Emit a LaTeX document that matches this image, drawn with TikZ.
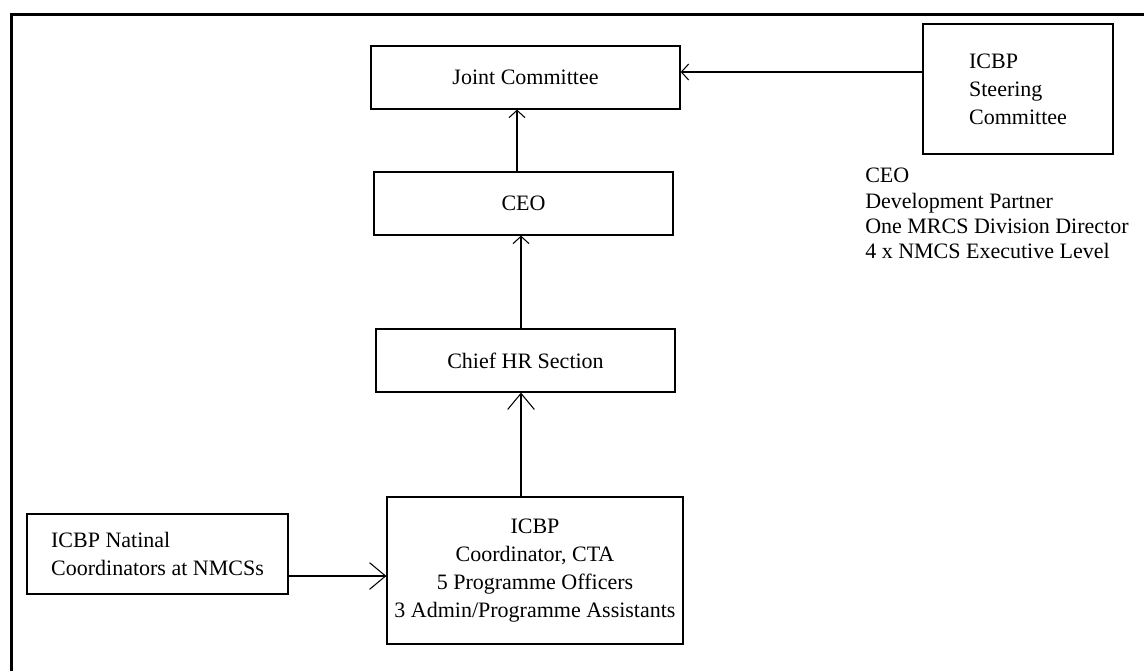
\documentclass[tikz,border=0pt]{standalone}
\usepackage{fontspec}
\setmainfont{Liberation Serif}
\usepackage{tikz}
\usetikzlibrary{arrows.meta,positioning,calc}

\begin{document}
\begin{tikzpicture}[x=0.75pt, y=-0.75pt,
  orgbox/.style={draw, line width=0.9pt, inner sep=0pt, align=center,
    font=\fontsize{16.5}{21}\selectfont},
  smalltip/.style={-{Straight Barb[length=5.5pt, width=12pt, line width=0.8pt]}},
  bigtip/.style={-{Straight Barb[length=12pt, width=20pt, line width=0.8pt]}}]
\useasboundingbox (0,0) rectangle (1144,671);

% Frame
\draw[line width=2.25pt] (11,671) -- (11,14) -- (1144,14);

% Boxes
\node[orgbox, minimum width=309*0.75pt, minimum height=63*0.75pt] (joint) at (525.5,77.5) {Joint Committee};
\node[orgbox, minimum width=299*0.75pt, minimum height=63*0.75pt] (ceo) at (523.5,203.5) {CEO};
\node[orgbox, minimum width=299*0.75pt, minimum height=63*0.75pt] (chiefhr) at (525.5,360.5) {Chief HR Section};
\node[orgbox, minimum width=296*0.75pt, minimum height=147*0.75pt, font=\fontsize{16.5}{21}\selectfont] (icbp) at (535,570.5)
  {ICBP\\Coordinator, CTA\\5 Programme Officers\\3 Admin/Programme Assistants};
\node[orgbox, align=left, minimum width=261*0.75pt, minimum height=80*0.75pt] (natcoord) at (157.5,554)
  {ICBP Natinal\\Coordinators at NMCSs};
\node[orgbox, align=left, minimum width=190*0.75pt, minimum height=130*0.75pt] (steering) at (1018,89)
  {ICBP\\Steering\\Committee};

% Members of the steering committee
\node[anchor=north west, inner sep=0pt, align=left, font=\fontsize{16.5}{19}\selectfont] (members) at (865,168)
  {CEO\\Development Partner\\One MRCS Division Director\\4 x NMCS Executive Level};

% Reporting lines
\draw[smalltip, line width=0.9pt] (steering.west |- 0,72) -- (joint.east |- 0,72);
\draw[smalltip, line width=0.9pt] (ceo.north -| 517,0) -- (joint.south -| 517,0);
\draw[smalltip, line width=0.9pt] (chiefhr.north -| 521,0) -- (ceo.south -| 521,0);
\draw[bigtip, line width=0.9pt] (icbp.north -| 521,0) -- (chiefhr.south -| 521,0);
\draw[bigtip, line width=0.9pt] (natcoord.east |- 0,576) -- (icbp.west |- 0,576);

\end{tikzpicture}
\end{document}
